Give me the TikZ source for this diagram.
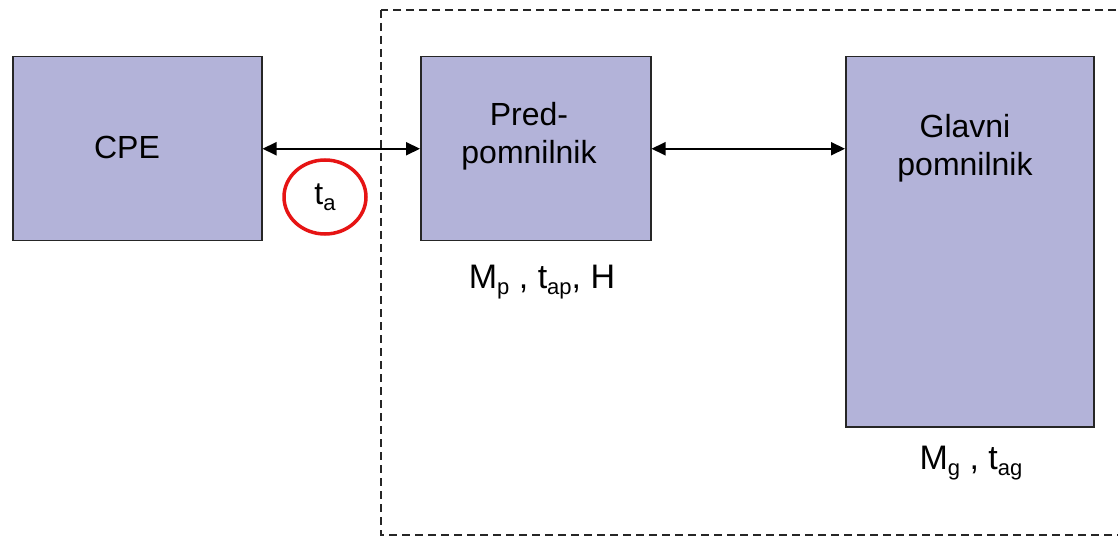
\documentclass[tikz,border=0pt]{standalone}
\usepackage{fontspec}
\setmainfont{Liberation Sans}
\usetikzlibrary{arrows.meta,shapes.geometric}
\definecolor{boxfill}{RGB}{179,179,217}
\definecolor{ringred}{RGB}{230,20,20}
\newcommand\lowsub[1]{\raisebox{-6pt}{\fontsize{22}{22}\selectfont #1}}
\begin{document}
\begin{tikzpicture}[x=1pt,y=-1pt,
  unitbox/.style={draw=black!85, line width=1.5pt, fill=boxfill, inner sep=0pt, anchor=north west},
  boxtext/.style={font=\fontsize{32}{38}\selectfont, align=center, inner sep=0pt},
  labeltext/.style={font=\fontsize{34}{40}\selectfont, inner sep=0pt},
  link/.style={line width=2pt, {Triangle[length=14pt,width=13pt]}-{Triangle[length=14pt,width=13pt]}},
  zone/.style={draw=black!85, line width=1.5pt, dash pattern=on 8pt off 5pt}]
\clip (0,0) rectangle (1118,537);
\fill[white] (0,0) rectangle (1118,537);
\draw[zone] (381,10) rectangle (1140,535);
\node[unitbox, minimum width=249pt, minimum height=184pt] (cpe) at (12,56) {};
\node[unitbox, minimum width=230pt, minimum height=184pt] (pred) at (420,56) {};
\node[unitbox, minimum width=248pt, minimum height=370pt] (glavni) at (845,56) {};
\node[boxtext] (cpetext) at (127,147) {CPE};
\node[boxtext] (predtext) at (529,136) {Pred-\\pomnilnik};
\node[boxtext] (glavnitext) at (965,148) {Glavni\\pomnilnik};
\draw[link] (cpe.east) -- (pred.west);
\draw[link] (pred.east) -- (glavni.west |- pred.east);
\node[draw=ringred, line width=3.5pt, ellipse, minimum width=82pt, minimum height=74pt, inner sep=0pt, font=\fontsize{32}{38}\selectfont] (ta) at (325,197) {t\lowsub{a}};
\node[labeltext] (mp) at (542,282) {M\lowsub{p} , t\lowsub{ap}, H};
\node[labeltext] (mg) at (971,463) {M\lowsub{g} , t\lowsub{ag}};
\end{tikzpicture}
\end{document}
